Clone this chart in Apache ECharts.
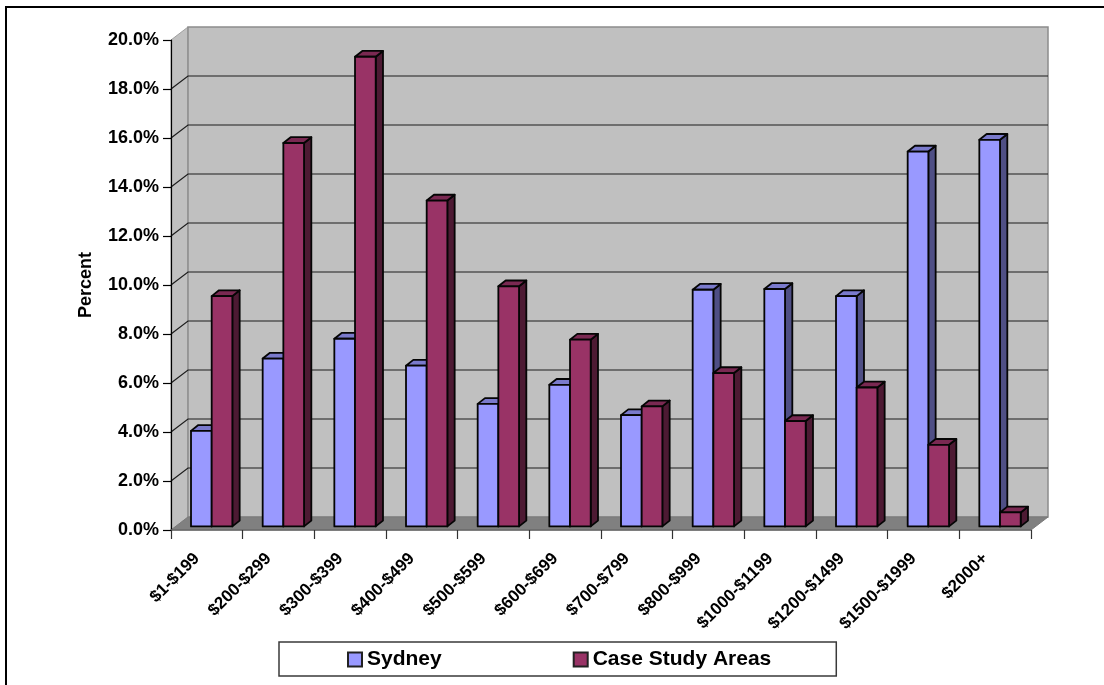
<!DOCTYPE html>
<html>
<head>
<meta charset="utf-8">
<title>Weekly household rent: Sydney and case study areas</title>
<script src="https://cdn.jsdelivr.net/npm/echarts@6/dist/echarts.min.js"></script>
<style>
  html, body { margin: 0; padding: 0; background: #fff; overflow: hidden; }
  #chart { width: 1104px; height: 685px; }
</style>
</head>
<body>
<div id="chart"></div>
<script>
const categories = ['$1-$199', '$200-$299', '$300-$399', '$400-$499', '$500-$599', '$600-$699',
  '$700-$799', '$800-$999', '$1000-$1199', '$1200-$1499', '$1500-$1999', '$2000+'];
const sydney = [3.9, 6.85, 7.66, 6.56, 5.0, 5.78, 4.54, 9.66, 9.69, 9.4, 15.3, 15.78];
const caseStudyAreas = [9.4, 15.65, 19.17, 13.3, 9.8, 7.62, 4.9, 6.26, 4.3, 5.67, 3.33, 0.57];
const gridTicks = [2, 4, 6, 8, 10, 12, 14, 16, 18];

// Oblique projection used for the 3D box: back wall offset and per-bar depth.
const WALL_DX = 17, WALL_DY = -13;
const BAR_DX = 7.3, BAR_DY = -5.8;
const BAR_FRONT_DX = 4.85, BAR_FRONT_DY = -3.6;
const BAR_WIDTH_RATIO = 0.2885;

const FONT = '"Liberation Sans", Arial, sans-serif';

// Walls, floor and gridlines behind the bars.
function renderWalls(params, api) {
  const c = params.coordSys;
  const l = c.x, r = c.x + c.width, t = c.y, b = c.y + c.height;
  const children = [
    { type: 'polygon', shape: { points: [[l, t], [l + WALL_DX, t + WALL_DY], [l + WALL_DX, b + WALL_DY], [l, b]] },
      style: { fill: '#C0C0C0', stroke: '#A0A0A0', lineWidth: 1 } },
    { type: 'rect', shape: { x: l + WALL_DX, y: t + WALL_DY, width: c.width, height: c.height },
      style: { fill: '#C0C0C0', stroke: '#8C8C8C', lineWidth: 1.5 } },
    { type: 'polygon', shape: { points: [[l, b], [l + WALL_DX, b + WALL_DY], [r + WALL_DX, b + WALL_DY], [r, b]] },
      style: { fill: '#808080', stroke: '#7A7A7A', lineWidth: 1 } }
  ];
  gridTicks.forEach(function (tick) {
    const y = api.coord([0, tick])[1];
    children.push({ type: 'polyline',
      shape: { points: [[l, y], [l + WALL_DX, y + WALL_DY], [r + WALL_DX, y + WALL_DY]] },
      style: { fill: 'none', stroke: '#1c1c1c', lineWidth: 1.2 } });
  });
  return { type: 'group', children: children };
}

// One 3D column; the side picks its slot within the category band.
function barRenderer(side, front, top, right) {
  return function (params, api) {
    const p = api.coord([api.value(0), api.value(1)]);
    const base = api.coord([api.value(0), 0]);
    const band = api.size([1, 0])[0];
    const w = band * BAR_WIDTH_RATIO;
    const x0 = p[0] + BAR_FRONT_DX + (side === 0 ? -w : 0);
    const x1 = x0 + w;
    const yt = p[1] + BAR_FRONT_DY;
    const yb = base[1] + BAR_FRONT_DY;
    const edge = { stroke: '#050505', lineWidth: 1.8, lineJoin: 'round' };
    return { type: 'group', children: [
      { type: 'polygon', shape: { points: [[x1, yt], [x1 + BAR_DX, yt + BAR_DY], [x1 + BAR_DX, yb + BAR_DY], [x1, yb]] },
        style: Object.assign({ fill: right }, edge) },
      { type: 'polygon', shape: { points: [[x0, yt], [x0 + BAR_DX, yt + BAR_DY], [x1 + BAR_DX, yt + BAR_DY], [x1, yt]] },
        style: Object.assign({ fill: top }, edge) },
      { type: 'polygon', shape: { points: [[x0, yt], [x1, yt], [x1, yb], [x0, yb]] },
        style: Object.assign({ fill: front }, edge) }
    ] };
  };
}

const chart = echarts.init(document.getElementById('chart'), null, { renderer: 'canvas' });
chart.setOption({
  animation: false,
  backgroundColor: '#ffffff',
  graphic: [{
    type: 'rect', silent: true, z: 0,
    shape: { x: 6, y: 7, width: 1300, height: 900 },
    style: { fill: 'transparent', stroke: '#000', lineWidth: 2 }
  }],
  grid: { left: 171, top: 40, width: 860, height: 490, containLabel: false },
  legend: {
    left: 279, top: 642,
    data: ['Sydney', 'Case Study Areas'],
    icon: 'rect',
    itemWidth: 14, itemHeight: 14, itemGap: 131,
    padding: [7, 65, 6, 68],
    backgroundColor: '#fff',
    borderColor: '#3a3a3a', borderWidth: 1.5,
    textStyle: { fontFamily: FONT, fontWeight: 'bold', fontSize: 21, color: '#000' }
  },
  xAxis: {
    type: 'category',
    data: categories,
    z: 5,
    axisLine: { lineStyle: { color: '#6a6a6a', width: 1.5 } },
    axisTick: { show: true, length: 9, alignWithLabel: false, lineStyle: { color: '#333', width: 1.2 } },
    axisLabel: { interval: 0, rotate: 45, margin: 16, hideOverlap: false, padding: [0, 14, 0, 0],
      fontFamily: FONT, fontWeight: 'bold', fontSize: 17, color: '#000' },
    splitLine: { show: false }
  },
  yAxis: {
    type: 'value',
    min: 0, max: 20, interval: 2,
    z: 5,
    name: 'Percent',
    nameLocation: 'middle',
    nameGap: 76,
    nameTextStyle: { fontFamily: FONT, fontWeight: 'bold', fontSize: 18, color: '#000' },
    axisLine: { show: true, lineStyle: { color: '#000', width: 1.2 } },
    axisTick: { show: true, length: 8, lineStyle: { color: '#000', width: 1.2 } },
    axisLabel: { margin: 12, fontFamily: FONT, fontWeight: 'bold', fontSize: 18, color: '#000',
      formatter: function (v) { return v.toFixed(1) + '%'; } },
    splitLine: { show: false }
  },
  series: [
    { type: 'custom', name: 'walls', silent: true, z: 1, data: [[0, 0]], renderItem: renderWalls },
    { type: 'custom', name: 'Sydney', z: 2,
      itemStyle: { color: '#9999FF', borderColor: '#222', borderWidth: 1.5 },
      encode: { x: 0, y: 1 },
      data: sydney.map(function (v, i) { return [i, v]; }),
      renderItem: barRenderer(0, '#9999FF', '#7A7ACC', '#4F4F85') },
    { type: 'custom', name: 'Case Study Areas', z: 3,
      itemStyle: { color: '#993366', borderColor: '#222', borderWidth: 1.5 },
      encode: { x: 0, y: 1 },
      data: caseStudyAreas.map(function (v, i) { return [i, v]; }),
      renderItem: barRenderer(1, '#993366', '#7A2952', '#4D1A33') }
  ]
});
</script>
</body>
</html>
